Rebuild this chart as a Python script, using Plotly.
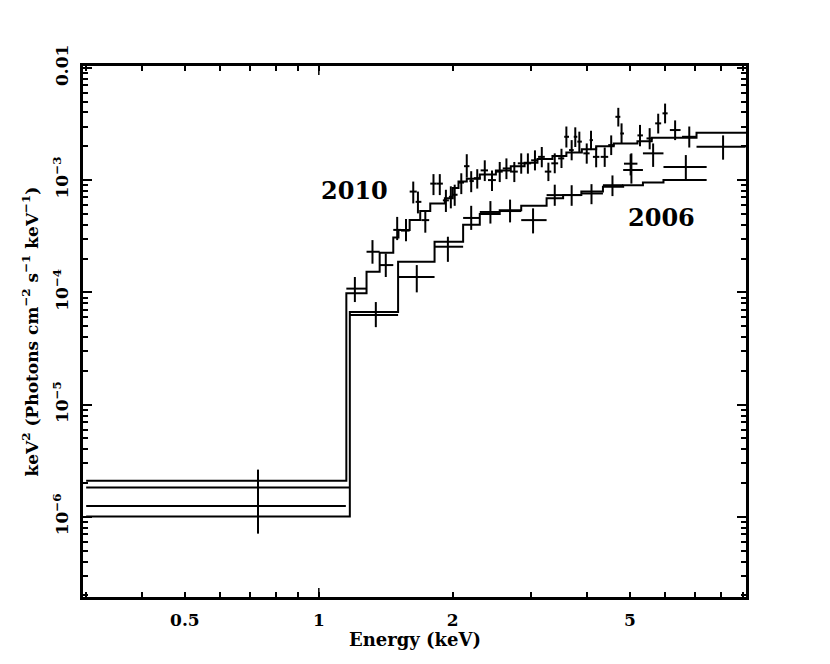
import plotly.graph_objects as go

# ---------------- data ----------------
# 2010 spectrum: energy centre, bin low/high edges, flux, flux low/high
e10 = [0.73, 1.205, 1.32, 1.414, 1.50, 1.57, 1.63, 1.67, 1.735, 1.81, 1.87, 1.93, 1.98, 2.02,
       2.09, 2.15, 2.20, 2.27, 2.36, 2.45, 2.55, 2.64, 2.75, 2.85, 2.95, 3.06, 3.17, 3.28,
       3.39, 3.51, 3.60, 3.70, 3.77, 3.85, 4.00, 4.09, 4.20, 4.39, 4.54, 4.71, 4.79, 5.02,
       5.27, 5.54, 5.79, 6.00, 6.32, 6.80, 8.10]
e10_lo = [0.30, 1.153, 1.28, 1.37, 1.47, 1.53, 1.60, 1.65, 1.70, 1.78, 1.84, 1.90, 1.96, 2.00,
          2.06, 2.12, 2.18, 2.23, 2.31, 2.40, 2.50, 2.59, 2.69, 2.80, 2.90, 3.00, 3.11, 3.22,
          3.33, 3.45, 3.56, 3.65, 3.74, 3.81, 3.93, 4.06, 4.13, 4.30, 4.47, 4.64, 4.76, 4.85,
          5.20, 5.45, 5.70, 5.92, 6.15, 6.55, 7.06]
e10_hi = [1.17, 1.28, 1.37, 1.47, 1.53, 1.60, 1.66, 1.70, 1.77, 1.84, 1.90, 1.96, 2.00, 2.05,
          2.12, 2.18, 2.23, 2.31, 2.40, 2.50, 2.59, 2.69, 2.80, 2.90, 3.00, 3.11, 3.22, 3.33,
          3.45, 3.56, 3.65, 3.74, 3.81, 3.90, 4.06, 4.13, 4.27, 4.47, 4.62, 4.76, 4.85, 5.20,
          5.35, 5.63, 5.88, 6.08, 6.50, 7.06, 9.10]
f10 = [1.83e-6, 1.08e-4, 2.3e-4, 1.75e-4, 3.6e-4, 3.55e-4, 7.9e-4, 6.4e-4, 4.4e-4, 9.3e-4,
       9.3e-4, 6.6e-4, 7.1e-4, 7.4e-4, 9.5e-4, 1.33e-3, 9.8e-4, 1.04e-3, 1.22e-3, 1.0e-3,
       1.19e-3, 1.27e-3, 1.19e-3, 1.41e-3, 1.41e-3, 1.5e-3, 1.61e-3, 1.19e-3, 1.41e-3,
       1.56e-3, 2.43e-3, 1.85e-3, 2.43e-3, 2.2e-3, 1.73e-3, 2.27e-3, 1.61e-3, 1.61e-3,
       2.05e-3, 3.66e-3, 2.6e-3, 1.4e-3, 2.5e-3, 2.35e-3, 3.2e-3, 3.93e-3, 2.79e-3,
       2.43e-3, 1.98e-3]
f10_lo = [1.07e-6, 8.2e-5, 1.8e-4, 1.37e-4, 2.92e-4, 2.85e-4, 6.2e-4, 5.05e-4, 3.4e-4, 7.35e-4,
          7.35e-4, 5.2e-4, 5.6e-4, 5.9e-4, 7.5e-4, 1.05e-3, 7.8e-4, 8.4e-4, 9.8e-4, 8.0e-4,
          9.6e-4, 1.02e-3, 9.6e-4, 1.14e-3, 1.14e-3, 1.22e-3, 1.3e-3, 9.8e-4, 1.15e-3,
          1.28e-3, 1.95e-3, 1.5e-3, 1.97e-3, 1.78e-3, 1.4e-3, 1.85e-3, 1.3e-3, 1.31e-3,
          1.67e-3, 3.0e-3, 2.1e-3, 1.1e-3, 2.0e-3, 1.88e-3, 2.6e-3, 3.2e-3, 2.27e-3,
          1.95e-3, 1.52e-3]
f10_hi = [2.64e-6, 1.37e-4, 2.92e-4, 2.22e-4, 4.7e-4, 4.5e-4, 9.7e-4, 7.9e-4, 5.4e-4, 1.13e-3,
          1.13e-3, 8.2e-4, 8.8e-4, 9.1e-4, 1.15e-3, 1.7e-3, 1.2e-3, 1.25e-3, 1.5e-3, 1.22e-3,
          1.45e-3, 1.56e-3, 1.45e-3, 1.73e-3, 1.73e-3, 1.84e-3, 1.97e-3, 1.43e-3, 1.73e-3,
          1.9e-3, 3.0e-3, 2.27e-3, 2.95e-3, 2.7e-3, 2.12e-3, 2.75e-3, 1.97e-3, 1.95e-3,
          2.5e-3, 4.4e-3, 3.2e-3, 1.7e-3, 3.1e-3, 2.9e-3, 3.9e-3, 4.8e-3, 3.4e-3,
          3.0e-3, 2.5e-3]

# 2006 spectrum
e06 = [0.73, 1.343, 1.66, 1.95, 2.20, 2.43, 2.69, 3.03, 3.39, 3.70, 4.10, 4.57, 5.04, 5.64, 6.68]
e06_lo = [0.30, 1.174, 1.507, 1.82, 2.11, 2.30, 2.55, 2.85, 3.25, 3.54, 3.89, 4.35, 4.83, 5.35, 5.95]
e06_hi = [1.15, 1.507, 1.82, 2.11, 2.30, 2.55, 2.85, 3.25, 3.54, 3.89, 4.35, 4.83, 5.35, 5.95, 7.44]
f06 = [1.25e-6, 6.3e-5, 1.37e-4, 2.55e-4, 4.6e-4, 5.2e-4, 5.3e-4, 4.4e-4, 7.35e-4, 7.35e-4,
       7.6e-4, 9.0e-4, 1.23e-3, 1.73e-3, 1.31e-3]
f06_lo = [7.1e-7, 4.9e-5, 1.0e-4, 1.87e-4, 3.6e-4, 4.1e-4, 4.2e-4, 3.35e-4, 5.9e-4, 5.9e-4,
          6.1e-4, 7.2e-4, 9.3e-4, 1.31e-3, 1.01e-3]
f06_hi = [1.83e-6, 8.2e-5, 1.75e-4, 3.13e-4, 5.9e-4, 6.5e-4, 6.7e-4, 5.6e-4, 9.1e-4, 9.0e-4,
          9.2e-4, 1.1e-3, 1.73e-3, 2.12e-3, 1.67e-3]

# folded models (step functions): bin edges and values
m10_edges = [0.3, 1.153, 1.28, 1.37, 1.47, 1.51, 1.60, 1.69, 1.78, 1.92, 2.0, 2.06, 2.15, 2.3,
             2.5, 2.7, 2.9, 3.1, 3.35, 3.6, 3.9, 4.2, 4.6, 5.2, 5.6, 7.06, 9.2]
m10_vals = [2.1e-6, 9.8e-5, 1.53e-4, 2.25e-4, 3.08e-4, 3.6e-4, 4.4e-4, 5.3e-4, 6.2e-4, 6.9e-4,
            8.5e-4, 9.7e-4, 1.03e-3, 1.12e-3, 1.22e-3, 1.33e-3, 1.43e-3, 1.54e-3, 1.64e-3,
            1.76e-3, 1.88e-3, 2.0e-3, 2.12e-3, 2.22e-3, 2.38e-3, 2.64e-3]
m06_edges = [0.3, 1.174, 1.507, 1.82, 2.11, 2.30, 2.55, 2.85, 3.25, 3.54, 3.89, 4.35, 4.83,
             5.35, 5.95, 7.44]
m06_vals = [1.01e-6, 6.7e-5, 1.87e-4, 2.82e-4, 4.0e-4, 5.0e-4, 5.4e-4, 5.9e-4, 6.9e-4, 7.35e-4,
            7.9e-4, 8.7e-4, 9.0e-4, 9.5e-4, 1.0e-3]

x_tick_vals = [0.5, 1, 2, 5]
x_tick_text = ["0.5", "1", "2", "5"]
x_minor_vals = [0.3, 0.4, 0.6, 0.7, 0.8, 0.9, 3, 4, 6, 7, 8, 9]
y_tick_vals = [1e-6, 1e-5, 1e-4, 1e-3, 1e-2]
y_tick_text = ["10<sup>−6</sup>", "10<sup>−5</sup>", "10<sup>−4</sup>", "10<sup>−3</sup>", "0.01"]
y_minor_vals = [m * 10.0 ** d for d in range(-7, -2) for m in range(2, 10)]

FONT = "DejaVu Serif"
BLACK = "black"

fig = go.Figure()


def add_data(e, elo, ehi, f, flo, fhi):
    fig.add_trace(go.Scatter(
        x=e, y=f, mode="markers",
        marker=dict(size=1, color=BLACK),
        error_x=dict(type="data", symmetric=False,
                     array=[h - c for h, c in zip(ehi, e)],
                     arrayminus=[c - l for l, c in zip(elo, e)],
                     width=0, thickness=2, color=BLACK),
        error_y=dict(type="data", symmetric=False,
                     array=[h - c for h, c in zip(fhi, f)],
                     arrayminus=[c - l for l, c in zip(flo, f)],
                     width=0, thickness=2, color=BLACK),
        showlegend=False, hoverinfo="skip"))


def add_model(edges, vals):
    fig.add_trace(go.Scatter(
        x=edges, y=vals + [vals[-1]], mode="lines", line_shape="hv",
        line=dict(color=BLACK, width=2), showlegend=False, hoverinfo="skip"))


add_model(m10_edges, m10_vals)
add_model(m06_edges, m06_vals)
add_data(e10, e10_lo, e10_hi, f10, f10_lo, f10_hi)
add_data(e06, e06_lo, e06_hi, f06, f06_lo, f06_hi)

axis_common = dict(
    showline=True, linewidth=2.5, linecolor=BLACK, mirror="allticks",
    ticks="inside", tickcolor=BLACK, tickwidth=1.5,
    showgrid=False, zeroline=False,
    tickfont=dict(family=FONT, size=17, color=BLACK, weight="bold"),
)

fig.update_xaxes(type="log", range=[-0.530, 0.960],
                 tickmode="array", tickvals=x_tick_vals, ticktext=x_tick_text,
                 ticklen=5, ticklabelstandoff=6,
                 minor=dict(tickmode="array", tickvals=x_minor_vals, ticks="inside",
                            ticklen=5, tickwidth=1.5, tickcolor=BLACK),
                 **axis_common)
fig.update_yaxes(type="log", range=[-6.713, -1.984],
                 tickmode="array", tickvals=y_tick_vals, ticktext=y_tick_text,
                 ticklen=9, tickangle=-90, ticklabelstandoff=5,
                 minor=dict(tickmode="array", tickvals=y_minor_vals, ticks="inside",
                            ticklen=5, tickwidth=1.5, tickcolor=BLACK),
                 **axis_common)

# longer ticks at 1 keV (bottom and top)
for anchor, y0, y1 in [(0, 0, 9), (1, 0, -9)]:
    fig.add_shape(type="line", xref="x", yref="paper", x0=1, x1=1,
                  ysizemode="pixel", yanchor=anchor, y0=y0, y1=y1,
                  line=dict(color=BLACK, width=1.5))

fig.add_annotation(text="Energy (keV)", xref="paper", yref="paper", x=0.5, y=0,
                   xanchor="center", yanchor="top", yshift=-30, showarrow=False,
                   font=dict(family=FONT, size=18, color=BLACK, weight="bold"))
fig.add_annotation(text="keV<sup>2</sup> (Photons cm<sup>−2</sup> s<sup>−1</sup> keV<sup>−1</sup>)",
                   xref="paper", yref="paper", x=0, y=0.5, xanchor="center", yanchor="middle",
                   xshift=-53, textangle=-90, showarrow=False,
                   font=dict(family=FONT, size=17, color=BLACK, weight="bold"))
fig.add_annotation(text="2010", x=0.0809, y=-3.089, xref="x", yref="y", showarrow=False,
                   font=dict(family=FONT, size=24, color=BLACK, weight="bold"))
fig.add_annotation(text="2006", x=0.771, y=-3.33, xref="x", yref="y", showarrow=False,
                   font=dict(family=FONT, size=24, color=BLACK, weight="bold"))

# the page body adds an 8 px offset, so margins are shifted to keep the frame in place
fig.update_layout(width=830, height=664,
                  margin=dict(l=75, r=92, t=58, b=75, autoexpand=False),
                  plot_bgcolor="white", paper_bgcolor="white",
                  font=dict(family=FONT, color=BLACK), showlegend=False)

fig.write_html("out.html")
